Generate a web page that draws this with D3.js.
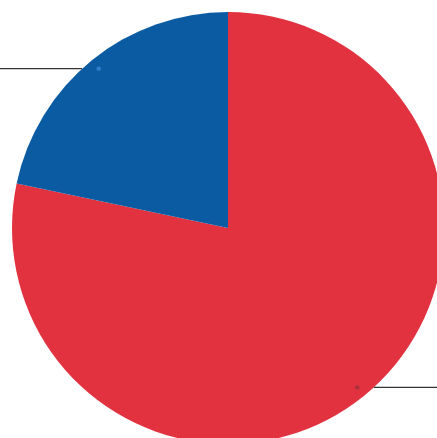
<!DOCTYPE html>
<html>
<head>
<meta charset="utf-8">
<script src="https://cdn.jsdelivr.net/npm/d3@7/dist/d3.min.js"></script>
<style>
  html, body { margin: 0; padding: 0; background: #ffffff; overflow: hidden; }
  svg { display: block; }
</style>
</head>
<body>
<script>
// Two-part share, drawn clockwise from 12 o'clock
const categories = ["Red share", "Blue share"];
const values = [78.3, 21.7];
const colors = ["#e2323f", "#0b5ba3"];
const dotColors = ["#a8323c", "#2f7fd0"];

const width = 437, height = 438;
const cx = 228, cy = 228, radius = 216;

const svg = d3.select("body").append("svg")
  .attr("width", width)
  .attr("height", height);

const pie = d3.pie().sort(null).value(d => d)(values);
const arc = d3.arc().innerRadius(0).outerRadius(radius);
const dotArc = d3.arc().innerRadius(radius * 0.95).outerRadius(radius * 0.95);

const g = svg.append("g").attr("transform", `translate(${cx},${cy})`);

g.selectAll("path.slice")
  .data(pie)
  .join("path")
  .attr("class", "slice")
  .attr("d", arc)
  .attr("fill", (d, i) => colors[i]);

// Leader lines: horizontal from the pie's rim out to the page edge
pie.forEach((d, i) => {
  const [px, py] = dotArc.centroid(d);
  const right = px > 0;
  const rimX = Math.sqrt(radius * radius - py * py) * (right ? 1 : -1);
  const endX = right ? width - cx : -cx;
  g.append("line")
    .attr("x1", rimX).attr("y1", py)
    .attr("x2", endX).attr("y2", py)
    .attr("stroke", "#333")
    .attr("stroke-width", 1.2);
  g.append("circle")
    .attr("cx", px).attr("cy", py)
    .attr("r", 2.2)
    .attr("fill", dotColors[i]);
});
</script>
</body>
</html>
